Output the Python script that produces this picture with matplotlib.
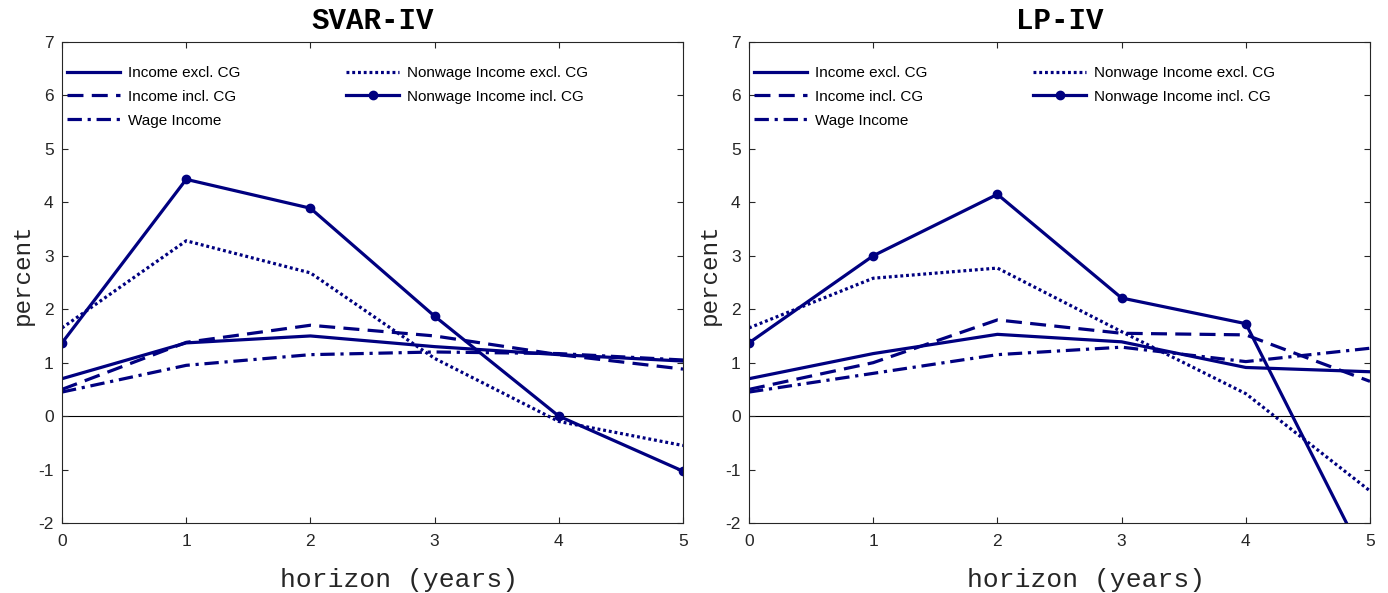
import numpy as np
import matplotlib.pyplot as plt

plt.rcParams['axes.unicode_minus'] = False

horizon = [0, 1, 2, 3, 4, 5]
labels = ['Income excl. CG', 'Income incl. CG', 'Wage Income',
          'Nonwage Income excl. CG', 'Nonwage Income incl. CG']

# SVAR-IV
svar_inc_excl = [0.70, 1.37, 1.50, 1.30, 1.15, 1.03]
svar_inc_incl = [0.50, 1.38, 1.70, 1.50, 1.15, 0.88]
svar_wage = [0.45, 0.95, 1.15, 1.20, 1.17, 1.05]
svar_nw_excl = [1.65, 3.28, 2.68, 1.08, -0.10, -0.55]
svar_nw_incl = [1.37, 4.43, 3.89, 1.87, 0.00, -1.03]

# LP-IV
lp_inc_excl = [0.70, 1.17, 1.53, 1.39, 0.91, 0.83]
lp_inc_incl = [0.50, 1.00, 1.80, 1.55, 1.52, 0.65]
lp_wage = [0.45, 0.80, 1.15, 1.29, 1.02, 1.27]
lp_nw_excl = [1.65, 2.58, 2.77, 1.58, 0.42, -1.40]
lp_nw_incl = [1.37, 3.00, 4.15, 2.21, 1.73, -2.87]

navy = '#000080'
axcol = '#262626'

fig = plt.figure(figsize=(13.88, 5.93), dpi=100)
ax1 = fig.add_axes([62/1388, 70/593, 621/1388, 481/593])
ax2 = fig.add_axes([749/1388, 70/593, 621/1388, 481/593])

panels = [
    (ax1, 'SVAR-IV', [svar_inc_excl, svar_inc_incl, svar_wage, svar_nw_excl, svar_nw_incl]),
    (ax2, 'LP-IV', [lp_inc_excl, lp_inc_incl, lp_wage, lp_nw_excl, lp_nw_incl]),
]

styles = [
    dict(linestyle='-'),
    dict(linestyle=(0, (5, 2.6))),
    dict(linestyle=(0, (4.5, 1.8, 1.0, 1.8))),
    dict(linestyle=(0, (0.9, 0.9))),
    dict(linestyle='-', marker='o', markersize=6),
]

for ax, title, series in panels:
    ax.axhline(0, color='black', lw=0.8, zorder=1)
    for vals, lab, st in zip(series, labels, styles):
        ax.plot(horizon, vals, color=navy, lw=2.3, label=lab, **st)
    ax.set_xlim(0, 5)
    ax.set_ylim(-2, 7)
    ax.set_xticks(horizon)
    ax.set_yticks(np.arange(-2, 8, 1))
    ax.tick_params(direction='in', top=True, right=True, length=4.5, width=0.8,
                   colors=axcol, labelsize=12.5)
    ax.tick_params(axis='x', pad=8)
    ax.tick_params(axis='y', pad=6)
    for sp in ax.spines.values():
        sp.set_color(axcol)
        sp.set_linewidth(0.8)
    ax.set_title(title, fontfamily='Liberation Mono', fontweight='bold',
                 fontsize=21, pad=9.4)
    ax.set_xlabel('horizon (years)', fontfamily='Liberation Mono', fontsize=19,
                  color=axcol)
    ax.xaxis.set_label_coords(0.542, -0.093, transform=ax.transAxes)
    ax.set_ylabel('percent', fontfamily='Liberation Mono', fontsize=17.5,
                  color=axcol, labelpad=3)
    ax.yaxis.label.set_y(0.517)
    for lbl in ax.get_xticklabels() + ax.get_yticklabels():
        lbl.set_fontfamily('Liberation Sans')
    ax.legend(ncol=2, loc='upper left', bbox_to_anchor=(0.008, 0.95),
              frameon=False, borderpad=0, borderaxespad=0,
              handlelength=3.5, handletextpad=0.5, columnspacing=6.9,
              labelspacing=0.64,
              prop={'family': 'Liberation Sans', 'size': 11})

fig.savefig('out.png', dpi=100)
